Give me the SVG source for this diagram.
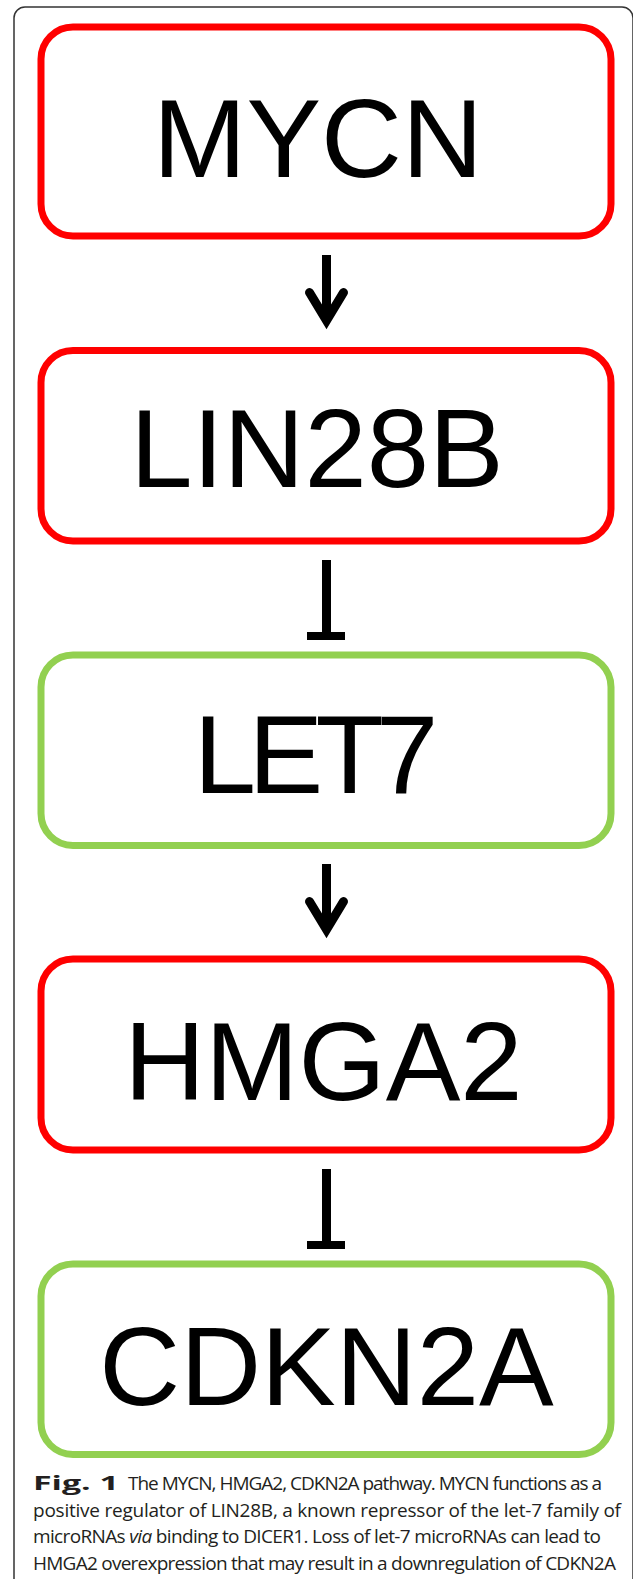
<svg xmlns="http://www.w3.org/2000/svg" width="633" height="1579" viewBox="0 0 633 1579">
<style>
.frame{fill:none;stroke:#333;stroke-width:1.5}
.red{fill:#fff;stroke:#ff0000;stroke-width:7}
.green{fill:#fff;stroke:#92d050;stroke-width:7}
.lbl{font-family:"Liberation Sans",Arial,sans-serif;font-size:112px;fill:#000;text-anchor:middle}
.cap{font-family:"Open Sans","Noto Sans",sans-serif;font-size:19px;fill:#231f20}
.shaft{stroke:#000;stroke-width:9;fill:none}
.head{stroke:#000;stroke-width:9;fill:none;stroke-linecap:round;stroke-linejoin:miter}
</style>
<rect width="633" height="1579" fill="#fff"/>
<rect class="frame" x="14" y="7" width="619" height="1590" rx="11"/>
<g id="connectors">
  <g id="arrow1">
    <line class="shaft" x1="326.5" y1="255" x2="326.5" y2="320"/>
    <path class="head" d="M309.5,292.5 L326.5,320.5 L343.5,292.5"/>
  </g>
  <g id="tbar1">
    <line class="shaft" x1="326.5" y1="560" x2="326.5" y2="636"/>
    <rect x="307" y="632" width="38" height="8" fill="#000"/>
  </g>
  <g id="arrow2">
    <line class="shaft" x1="326.5" y1="864" x2="326.5" y2="929"/>
    <path class="head" d="M309.5,901.5 L326.5,929.5 L343.5,901.5"/>
  </g>
  <g id="tbar2">
    <line class="shaft" x1="326.5" y1="1169" x2="326.5" y2="1245"/>
    <rect x="307" y="1241" width="38" height="8" fill="#000"/>
  </g>
</g>
<g id="node-mycn">
  <rect class="red" x="41" y="27" width="570" height="209" rx="32"/>
  <text class="lbl" x="318" y="177">MYCN</text>
</g>
<g id="node-lin28b">
  <rect class="red" x="41" y="350.5" width="570" height="190.5" rx="32"/>
  <text class="lbl" x="317" y="487">LIN28B</text>
</g>
<g id="node-let7">
  <rect class="green" x="41" y="655" width="570" height="190.5" rx="32"/>
  <text class="lbl" style="text-anchor:start" x="193.8 248.4 315.4 376.1" y="793">LET7</text>
</g>
<g id="node-hmga2">
  <rect class="red" x="41" y="959" width="570" height="191" rx="32"/>
  <text class="lbl" x="323.5" y="1100">HMGA2</text>
</g>
<g id="node-cdkn2a">
  <rect class="green" x="41" y="1264" width="570" height="190.5" rx="32"/>
  <text class="lbl" x="326.5" y="1405">CDKN2A</text>
</g>
<g id="caption">
  <text class="cap" x="33" y="1490" font-weight="bold" font-size="21" textLength="86" lengthAdjust="spacingAndGlyphs">Fig. 1</text>
  <text class="cap" x="128" y="1490" textLength="474">The MYCN, HMGA2, CDKN2A pathway. MYCN functions as a</text>
  <text class="cap" x="33" y="1517" textLength="588">positive regulator of LIN28B, a known repressor of the let-7 family of</text>
  <text class="cap" x="33" y="1543" textLength="568">microRNAs <tspan font-style="italic">via</tspan> binding to DICER1. Loss of let-7 microRNAs can lead to</text>
  <text class="cap" x="33" y="1570" textLength="583">HMGA2 overexpression that may result in a downregulation of CDKN2A</text>
</g>
</svg>
